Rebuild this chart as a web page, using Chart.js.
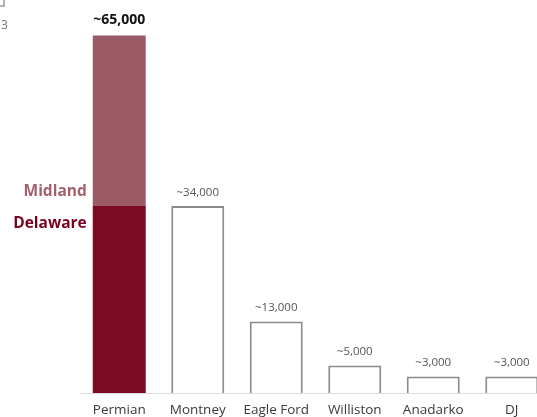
<!DOCTYPE html>
<html>
<head>
<meta charset="utf-8">
<script src="https://cdn.jsdelivr.net/npm/chart.js@4.4.1/dist/chart.umd.min.js"></script>
<style>
  html, body { margin: 0; padding: 0; background: #fff; overflow: hidden; }
  #wrap { width: 551px; height: 417px; }
</style>
</head>
<body>
<div id="wrap"><canvas id="c" width="551" height="417"></canvas></div>
<script>
// Basins and estimated drilling locations
const basins = ['Permian', 'Montney', 'Eagle Ford', 'Williston', 'Anadarko', 'DJ'];
const delaware = [34000, null, null, null, null, null];
const midland = [31000, null, null, null, null, null];
const otherBasins = [null, 34000, 13000, 5000, 3000, 3000];

const FONT = '"Open Sans", sans-serif';

const fmt = v => '~' + v.toLocaleString('en-US');

const annotate = {
  id: 'annotate',
  afterDatasetsDraw(chart) {
    const ctx = chart.ctx;
    ctx.save();
    const metaDel = chart.getDatasetMeta(0);
    const metaMid = chart.getDatasetMeta(1);
    const metaOther = chart.getDatasetMeta(2);

    // Permian total on top of the stacked bar
    const top = metaMid.data[0];
    const total = delaware[0] + midland[0];
    ctx.fillStyle = '#111';
    ctx.font = 'bold 14px ' + FONT;
    ctx.textAlign = 'center';
    ctx.textBaseline = 'bottom';
    ctx.fillText(fmt(total), top.x, top.y - 8);

    // Segment names to the left of the Permian bar
    const split = metaDel.data[0].y;
    const left = metaDel.data[0].x - metaDel.data[0].width / 2 - 6;
    ctx.font = 'bold 15.5px ' + FONT;
    ctx.textAlign = 'right';
    ctx.textBaseline = 'middle';
    ctx.fillStyle = '#a0616c';
    ctx.fillText('Midland', left, split - 14);
    ctx.fillStyle = '#7a0020';
    ctx.fillText('Delaware', left, split + 18);

    // Values over the outlined bars
    ctx.font = '11.5px ' + FONT;
    ctx.fillStyle = '#555';
    ctx.textAlign = 'center';
    ctx.textBaseline = 'bottom';
    otherBasins.forEach((v, i) => {
      if (v == null) return;
      const el = metaOther.data[i];
      ctx.fillText(fmt(v), el.x, el.y - 8);
    });

    // Fragment of a header element in the upper-left corner
    ctx.strokeStyle = '#999';
    ctx.lineWidth = 1.5;
    ctx.strokeRect(-6, -4, 10, 10);
    ctx.fillStyle = '#777';
    ctx.font = '12px ' + FONT;
    ctx.textAlign = 'left';
    ctx.textBaseline = 'middle';
    ctx.fillText('3', 1, 26);
    ctx.restore();
  }
};

new Chart(document.getElementById('c'), {
  type: 'bar',
  data: {
    labels: basins,
    datasets: [
      { label: 'Delaware', data: delaware, backgroundColor: '#7b0a22', borderWidth: 0 },
      { label: 'Midland', data: midland, backgroundColor: '#9a5a66', borderWidth: 0 },
      { label: 'Other', data: otherBasins, backgroundColor: '#fff', borderColor: '#8c8c8c',
        borderWidth: 2, borderSkipped: 'bottom' }
    ]
  },
  options: {
    responsive: false,
    animation: false,
    devicePixelRatio: 1,
    layout: { padding: { left: 80, top: 8, right: 0, bottom: 0 } },
    datasets: { bar: { barPercentage: 0.675, categoryPercentage: 1 } },
    plugins: { legend: { display: false }, tooltip: { enabled: false } },
    scales: {
      x: {
        stacked: true,
        grid: { display: false, drawTicks: false },
        border: { display: true, color: '#dcdcdc', width: 1 },
        ticks: { color: '#3a3a3a', font: { family: FONT, size: 13.5 }, padding: 9, maxRotation: 0 },
        afterFit(scale) { scale.height = 24; }
      },
      y: {
        stacked: true,
        display: false,
        min: 0,
        max: 70000
      }
    }
  },
  plugins: [annotate]
});
</script>
</body>
</html>
